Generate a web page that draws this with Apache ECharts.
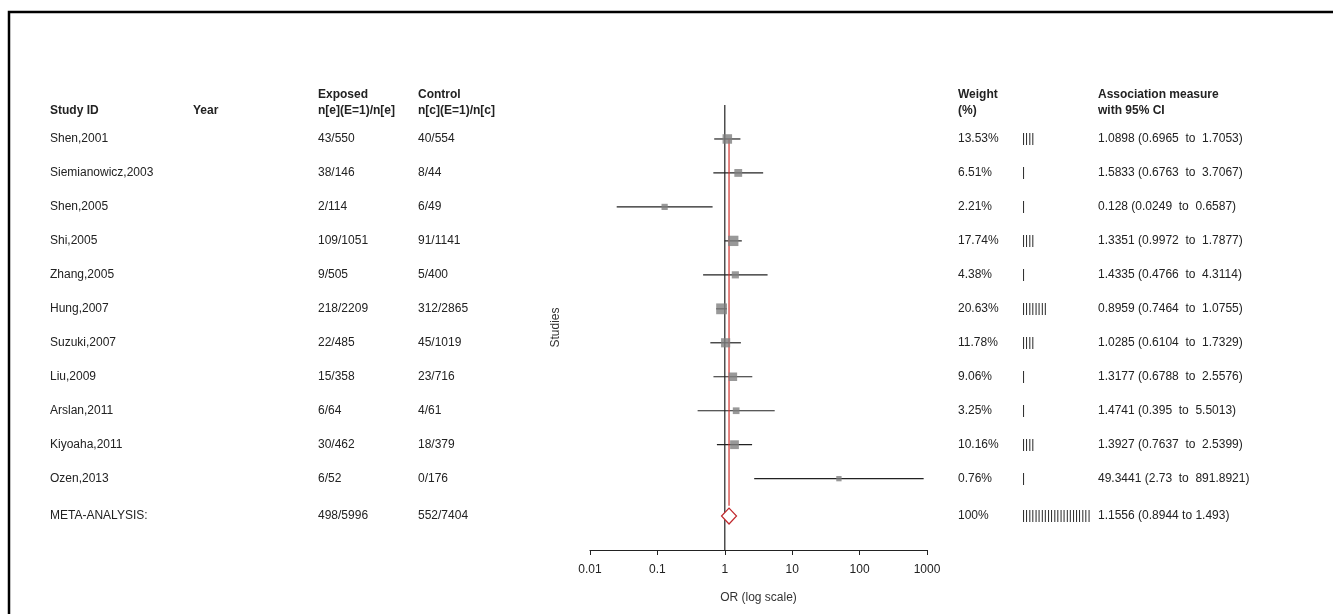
<!DOCTYPE html>
<html>
<head>
<meta charset="utf-8">
<script src="https://cdn.jsdelivr.net/npm/echarts@6/dist/echarts.min.js"></script>
<style>
  html, body { margin: 0; padding: 0; background: #fff; }
  #main { width: 1333px; height: 614px; }
</style>
</head>
<body>
<div id="main"></div>
<script>
  // study table
  var studies = ['Shen,2001', 'Siemianowicz,2003', 'Shen,2005', 'Shi,2005', 'Zhang,2005', 'Hung,2007',
    'Suzuki,2007', 'Liu,2009', 'Arslan,2011', 'Kiyoaha,2011', 'Ozen,2013'];
  var exposed = ['43/550', '38/146', '2/114', '109/1051', '9/505', '218/2209', '22/485', '15/358', '6/64', '30/462', '6/52'];
  var control = ['40/554', '8/44', '6/49', '91/1141', '5/400', '312/2865', '45/1019', '23/716', '4/61', '18/379', '0/176'];
  var weights = [13.53, 6.51, 2.21, 17.74, 4.38, 20.63, 11.78, 9.06, 3.25, 10.16, 0.76];
  var weightBars = ['||||', '|', '|', '||||', '|', '||||||||', '||||', '|', '|', '||||', '|'];
  var orValues = [1.0898, 1.5833, 0.128, 1.3351, 1.4335, 0.8959, 1.0285, 1.3177, 1.4741, 1.3927, 49.3441];
  var ciLow = [0.6965, 0.6763, 0.0249, 0.9972, 0.4766, 0.7464, 0.6104, 0.6788, 0.395, 0.7637, 2.73];
  var ciHigh = [1.7053, 3.7067, 0.6587, 1.7877, 4.3114, 1.0755, 1.7329, 2.5576, 5.5013, 2.5399, 891.8921];
  var assocText = ['1.0898 (0.6965  to  1.7053)', '1.5833 (0.6763  to  3.7067)', '0.128 (0.0249  to  0.6587)',
    '1.3351 (0.9972  to  1.7877)', '1.4335 (0.4766  to  4.3114)', '0.8959 (0.7464  to  1.0755)',
    '1.0285 (0.6104  to  1.7329)', '1.3177 (0.6788  to  2.5576)', '1.4741 (0.395  to  5.5013)',
    '1.3927 (0.7637  to  2.5399)', '49.3441 (2.73  to  891.8921)'];
  var meta = { name: 'META-ANALYSIS:', exposed: '498/5996', control: '552/7404', weight: '100%',
    or: 1.1556, low: 0.8944, high: 1.493, text: '1.1556 (0.8944 to 1.493)' };
  var xTicks = [0.01, 0.1, 1, 10, 100, 1000];

  var metaRow = 12.1;
  var rows = studies.map(function (s, i) { return i + 1; });

  var chart = echarts.init(document.getElementById('main'));
  var font = 'Liberation Sans, Arial, sans-serif';

  chart.setOption({
    animation: false,
    grid: { left: 590, width: 337, top: 105, height: 445 },
    xAxis: {
      type: 'log', logBase: 10, min: 0.01, max: 1000, position: 'bottom',
      name: 'OR (log scale)', nameLocation: 'middle', nameGap: 42,
      nameTextStyle: { color: '#333', fontSize: 12, fontFamily: font },
      axisLine: { onZero: false, lineStyle: { color: '#222', width: 1.2 } },
      axisTick: { inside: false, length: 5, lineStyle: { color: '#222' } },
      axisLabel: { color: '#222', fontSize: 12, fontFamily: font, margin: 14,
        formatter: function (v) { return xTicks.indexOf(+v.toPrecision(3)) >= 0 ? String(+v.toPrecision(3)) : ''; } },
      splitLine: { show: false }, minorTick: { show: false }
    },
    yAxis: {
      type: 'value', min: 0, max: 13.1, inverse: true,
      name: 'Studies', nameLocation: 'middle', nameGap: 28, nameRotate: 90,
      nameTextStyle: { color: '#333', fontSize: 12, fontFamily: font },
      axisLine: { show: false }, axisTick: { show: false }, axisLabel: { show: false }, splitLine: { show: false }
    },
    series: [
      { // reference line at OR = 1
        type: 'line', data: [[1, 0], [1, 13.1]], symbol: 'none', silent: true,
        lineStyle: { color: '#222', width: 1.2 }
      },
      { // pooled estimate line
        type: 'line', data: [[meta.or, 1], [meta.or, metaRow - 0.3]], symbol: 'none', silent: true,
        lineStyle: { color: '#d0312d', width: 1.2 }, z: 3
      },
      { // confidence intervals
        type: 'custom',
        data: rows.map(function (r, i) { return [ciLow[i], ciHigh[i], r]; }),
        renderItem: function (params, api) {
          var a = api.coord([api.value(0), api.value(2)]);
          var b = api.coord([api.value(1), api.value(2)]);
          return { type: 'line', shape: { x1: a[0], y1: a[1], x2: b[0], y2: b[1] },
            style: { stroke: '#222', lineWidth: 1.2 } };
        }, z: 2
      },
      { // study estimates
        type: 'scatter', symbol: 'rect', z: 4,
        data: rows.map(function (r, i) { return [orValues[i], r, weights[i]]; }),
        symbolSize: function (v) { return 4 + Math.sqrt(v[2]) * 1.5; },
        itemStyle: { color: '#7f7f7f' }
      },
      { // pooled diamond
        type: 'custom', z: 5,
        data: [[meta.low, meta.or, meta.high, metaRow]],
        renderItem: function (params, api) {
          var l = api.coord([api.value(0), api.value(3)]);
          var m = api.coord([api.value(1), api.value(3)]);
          var h = api.coord([api.value(2), api.value(3)]);
          return { type: 'polygon',
            shape: { points: [[l[0], l[1]], [m[0], m[1] - 8], [h[0], h[1]], [m[0], m[1] + 8]] },
            style: { fill: '#fff', stroke: '#c0282d', lineWidth: 1.2 } };
        }
      }
    ]
  });

  // table text placed on rows via the y axis
  var g = [];
  g.push({ type: 'polyline', shape: { points: [[1333, 12], [9, 12], [9, 614]] }, style: { stroke: '#000', lineWidth: 2.5, fill: null } });
  function txt(x, y, s, bold) {
    g.push({ type: 'text', x: x, y: y, style: { text: s, fill: '#222', font: (bold ? 'bold ' : '') + '12px ' + font, textVerticalAlign: 'middle' } });
  }
  txt(50, 111, 'Study ID', true); txt(193, 111, 'Year', true);
  txt(318, 95, 'Exposed', true); txt(318, 111, 'n[e](E=1)/n[e]', true);
  txt(418, 95, 'Control', true); txt(418, 111, 'n[c](E=1)/n[c]', true);
  txt(958, 95, 'Weight', true); txt(958, 111, '(%)', true);
  txt(1098, 95, 'Association measure', true); txt(1098, 111, 'with 95% CI', true);
  rows.forEach(function (r, i) {
    var y = chart.convertToPixel({ yAxisIndex: 0 }, r);
    txt(50, y, studies[i]); txt(318, y, exposed[i]); txt(418, y, control[i]);
    txt(958, y, weights[i].toFixed(2) + '%'); txt(1022, y, weightBars[i]); txt(1098, y, assocText[i]);
  });
  var my = chart.convertToPixel({ yAxisIndex: 0 }, metaRow);
  txt(50, my, meta.name); txt(318, my, meta.exposed); txt(418, my, meta.control);
  txt(958, my, meta.weight); txt(1022, my, '||||||||||||||||||||||'); txt(1098, my, meta.text);
  chart.setOption({ graphic: g });
</script>
</body>
</html>
